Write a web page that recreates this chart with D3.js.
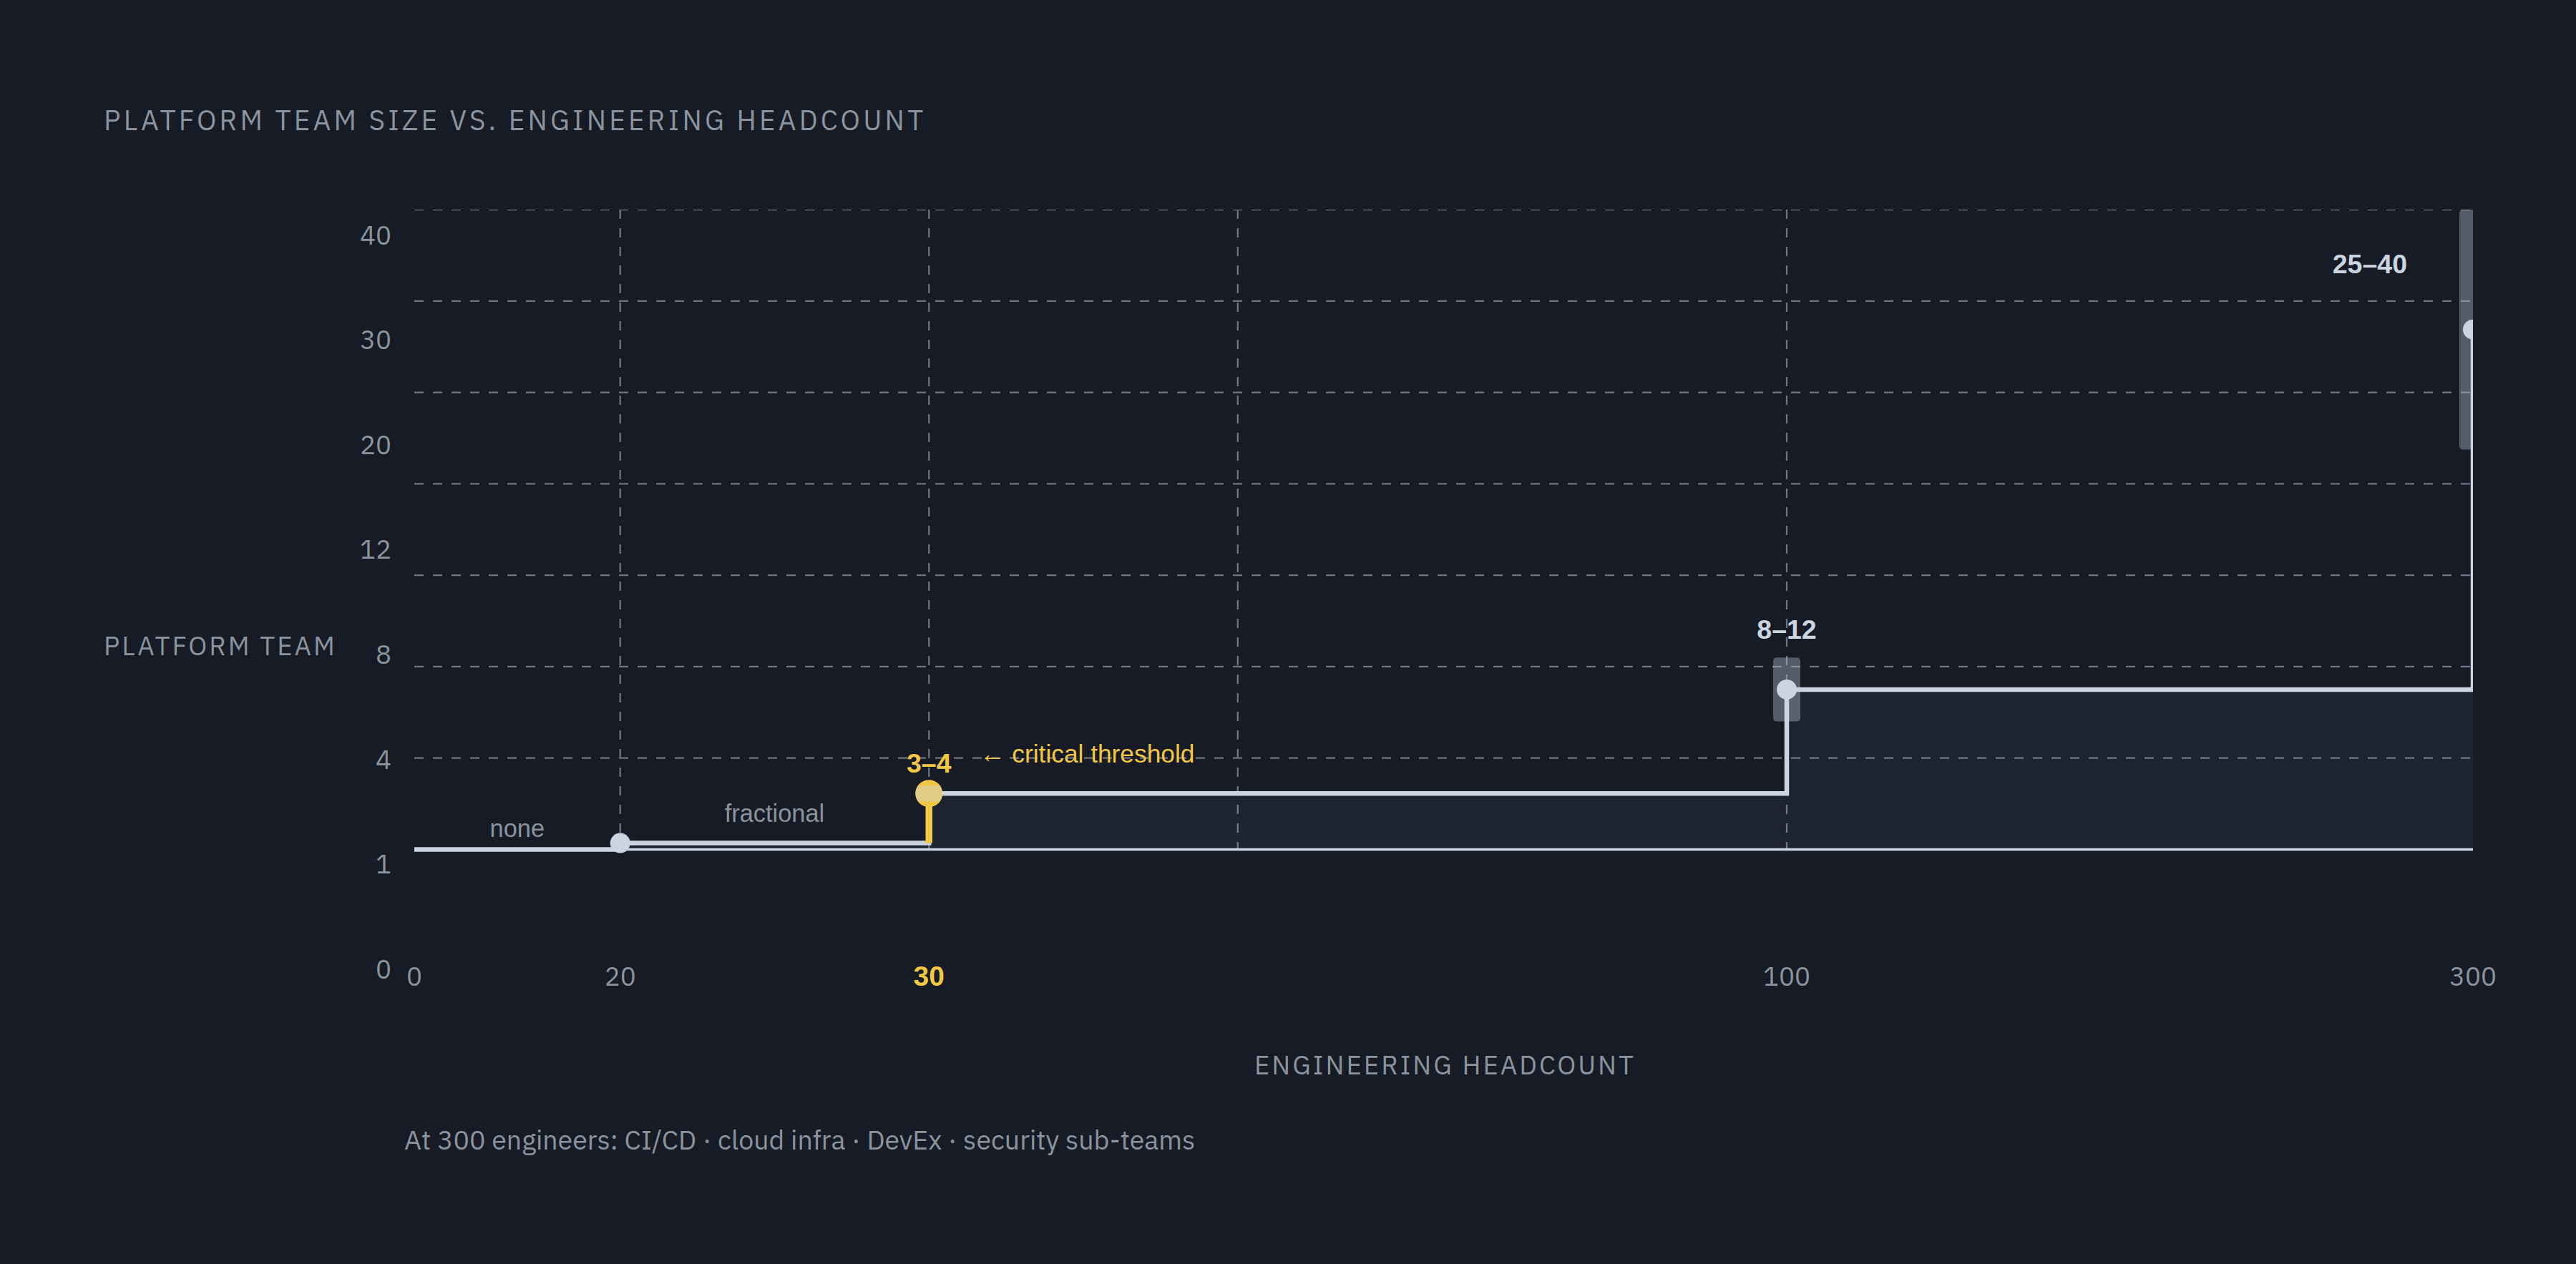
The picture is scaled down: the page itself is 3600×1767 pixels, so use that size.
<!DOCTYPE html>
<html>
<head>
<meta charset="utf-8">
<script src="https://cdn.jsdelivr.net/npm/d3@7"></script>
<style>
  html, body { margin: 0; background: #161b26; }
  svg { display: block; }
  .plex { font-family: "IBM Plex Sans", "Noto Sans", sans-serif; }
  .arial { font-family: "Liberation Sans", Arial, sans-serif; }
</style>
</head>
<body>
<svg id="chart" width="3600" height="1767"></svg>
<script>
// values
const headcount   = [0, 20, 30, 100, 300];
const teamSize    = [0, 0.4, 3.5, 10, 32.5];   // plotted value of each stage
const bandLow     = [null, null, 3, 8, 25];
const bandHigh    = [null, null, 4, 12, 40];
const stageLabels = ["none", "fractional", "3–4", "8–12", "25–40"];
const xTickValues = [0, 20, 30, 100, 300];
const xGridValues = [20, 30, 50, 100];
const yTickLabels = ["0", "1", "4", "8", "12", "20", "30", "40"];
const threshold   = 30;

const W = 3600, H = 1767;
const plotL = 579, plotR = 3456, plotT = 293, plotB = 1187.5;

const GRAY = "#8b949e", LIGHT = "#cbd5e1", YELLOW = "#f2c744";

const svg = d3.select("#chart").attr("viewBox", `0 0 ${W} ${H}`);
const defs = svg.append("defs");

defs.append("clipPath").attr("id", "plot-clip")
    .append("rect")
    .attr("x", plotL - 40).attr("y", plotT)
    .attr("width", plotR - plotL + 40).attr("height", H - plotT);

// piecewise headcount axis
const x = d3.scaleLinear()
    .domain([0, 20, 30, 50, 100, 300])
    .range([0, 0.1, 0.25, 0.4, 2 / 3, 1].map(f => plotL + f * (plotR - plotL)));
const y = d3.scaleLinear().domain([0, 40]).range([plotB, plotT]);

// grid rows and tick labels are evenly spaced, not on the value scale
const gridY  = d3.scalePoint().domain(yTickLabels).range([y(0), y(40)]);
const labelY = d3.scalePoint().domain(yTickLabels).range([1368, 341.5]);

const pts = headcount.map((h, i) => ({ h, v: teamSize[i], lo: bandLow[i], hi: bandHigh[i], label: stageLabels[i] }));
const tIdx = headcount.indexOf(threshold);

const plot = svg.append("g").attr("clip-path", "url(#plot-clip)");

// ===== GRID =====
plot.append("g").selectAll("line")
    .data(yTickLabels.slice(1))
    .join("line")
    .attr("x1", plotL).attr("x2", plotR)
    .attr("y1", d => gridY(d)).attr("y2", d => gridY(d))
    .attr("stroke", "#6e7580").attr("stroke-width", 2.3)
    .attr("stroke-dasharray", "13,13");

plot.append("g").selectAll("line")
    .data(xGridValues)
    .join("line")
    .attr("x1", d => x(d)).attr("x2", d => x(d))
    .attr("y1", plotT).attr("y2", y(0))
    .attr("stroke", "#6e7580").attr("stroke-width", 2.3)
    .attr("stroke-dasharray", "13,13");

// ===== AREA under the step =====
plot.append("path").datum(pts)
    .attr("d", d3.area().curve(d3.curveStepAfter)
        .x(d => x(d.h)).y0(y(0)).y1(d => y(d.v)))
    .attr("fill", LIGHT).attr("fill-opacity", 0.05);

// baseline
plot.append("line")
    .attr("x1", x(0)).attr("x2", x(300))
    .attr("y1", y(0)).attr("y2", y(0))
    .attr("stroke", LIGHT).attr("stroke-width", 3.4);

// ===== RANGE BARS =====
plot.append("g").selectAll("rect")
    .data(pts.filter((d, i) => d.lo != null && i !== tIdx))
    .join("rect")
    .attr("x", d => x(d.h) - 19).attr("width", 38)
    .attr("y", d => y(d.hi)).attr("height", d => y(d.lo) - y(d.hi))
    .attr("rx", 5)
    .attr("fill", "#a3acb9").attr("fill-opacity", 0.45);

// ===== STEP LINE =====
plot.append("path").datum(pts)
    .attr("d", d3.line().curve(d3.curveStepAfter).x(d => x(d.h)).y(d => y(d.v)))
    .attr("fill", "none")
    .attr("stroke", LIGHT).attr("stroke-width", 6.5);

// yellow riser at the threshold
plot.append("line")
    .attr("x1", x(threshold)).attr("x2", x(threshold))
    .attr("y1", y(teamSize[tIdx - 1])).attr("y2", y(teamSize[tIdx]))
    .attr("stroke", YELLOW).attr("stroke-width", 9.5);

// ===== DOTS =====
plot.append("g").selectAll("circle")
    .data(pts.slice(1))
    .join("circle")
    .attr("cx", d => x(d.h)).attr("cy", d => y(d.v))
    .attr("r", d => d.h === threshold ? 19 : 14)
    .attr("fill", d => d.h === threshold ? YELLOW : LIGHT);

// 3–4 band shown inside the threshold dot
const tp = pts[tIdx];
defs.append("clipPath").attr("id", "dot-clip")
    .append("circle")
    .attr("cx", x(tp.h)).attr("cy", y(tp.v)).attr("r", 19);
plot.append("rect")
    .attr("clip-path", "url(#dot-clip)")
    .attr("x", x(tp.h) - 19).attr("width", 38)
    .attr("y", y(tp.hi)).attr("height", y(tp.lo) - y(tp.hi))
    .attr("fill", LIGHT).attr("fill-opacity", 0.42);

// ===== ANNOTATIONS =====
const ann = svg.append("g");

// plain stage labels over the flat segments
[0, 1].forEach(i => {
    ann.append("text").attr("class", "arial")
        .attr("x", (x(headcount[i]) + x(headcount[i + 1])) / 2)
        .attr("y", y(teamSize[i]) - (i === 0 ? 18 : 30))
        .attr("text-anchor", "middle")
        .attr("font-size", 34.4).attr("fill", GRAY)
        .text(stageLabels[i]);
});

// range labels
ann.append("text").attr("class", "arial")
    .attr("x", x(headcount[2])).attr("y", y(bandHigh[2]) - 18)
    .attr("text-anchor", "middle").attr("font-weight", "bold")
    .attr("font-size", 37.5).attr("fill", YELLOW)
    .text(stageLabels[2]);

ann.append("text").attr("class", "arial")
    .attr("x", x(headcount[3])).attr("y", y(bandHigh[3]) - 26)
    .attr("text-anchor", "middle").attr("font-weight", "bold")
    .attr("font-size", 37.5).attr("fill", LIGHT)
    .text(stageLabels[3]);

ann.append("text").attr("class", "arial")
    .attr("x", x(headcount[4]) - 92).attr("y", y(bandHigh[4]) + 89)
    .attr("text-anchor", "end").attr("font-weight", "bold")
    .attr("font-size", 37.5).attr("fill", LIGHT)
    .text(stageLabels[4]);

ann.append("text").attr("class", "arial")
    .attr("x", x(threshold) + 71).attr("y", y(bandHigh[2]) - 32)
    .attr("font-size", 35.3).attr("fill", YELLOW)
    .text("← critical threshold");

// ===== AXES =====
const xAxis = svg.append("g");
xAxis.selectAll("text")
    .data(xTickValues)
    .join("text")
    .attr("class", d => d === threshold ? "arial" : "plex")
    .attr("x", d => x(d)).attr("y", 1378)
    .attr("text-anchor", "middle")
    .attr("font-size", d => d === threshold ? 39 : 36.7)
    .attr("font-weight", d => d === threshold ? "bold" : null)
    .attr("fill", d => d === threshold ? YELLOW : GRAY)
    .text(d => d);

const yAxis = svg.append("g");
yAxis.selectAll("text")
    .data(yTickLabels)
    .join("text")
    .attr("class", "plex")
    .attr("x", 547).attr("y", d => labelY(d))
    .attr("text-anchor", "end")
    .attr("font-size", 36.7).attr("fill", GRAY)
    .text(d => d);

svg.append("text").attr("class", "plex")
    .attr("x", 145).attr("y", 916)
    .attr("font-size", 36.7).attr("letter-spacing", 3).attr("fill", GRAY)
    .text("PLATFORM TEAM");

svg.append("text").attr("class", "plex")
    .attr("x", (plotL + plotR) / 2 + 2).attr("y", 1502)
    .attr("text-anchor", "middle")
    .attr("font-size", 36.7).attr("letter-spacing", 3).attr("fill", GRAY)
    .text("ENGINEERING HEADCOUNT");

// title + footnote
svg.append("text").attr("class", "plex")
    .attr("x", 145).attr("y", 182)
    .attr("font-size", 38.7).attr("letter-spacing", 4.2).attr("fill", GRAY)
    .text("PLATFORM TEAM SIZE VS. ENGINEERING HEADCOUNT");

svg.append("text").attr("class", "plex")
    .attr("x", 565).attr("y", 1607)
    .attr("font-size", 37.5).attr("fill", GRAY)
    .text("At 300 engineers: CI/CD · cloud infra · DevEx · security sub-teams");
</script>
</body>
</html>
